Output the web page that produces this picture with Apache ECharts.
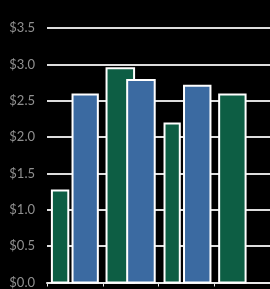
<!DOCTYPE html>
<html><head><meta charset="utf-8">
<script src="https://cdn.jsdelivr.net/npm/echarts@6/dist/echarts.min.js"></script>
<style>html,body{margin:0;padding:0;background:#000;}#c{width:270px;height:289px;}</style>
</head><body><div id="c"></div>
<script>
const categories = ['A', 'B', 'C', 'D'];
const greenValues = [1.28, 2.96, 2.2, 2.6];
const blueValues = [2.6, 2.8, 2.72, null];
const yTicks = [0, 0.5, 1, 1.5, 2, 2.5, 3, 3.5];

// layout (fractions of category band) - style only
const greenSpans = [[0.07, 0.40], [0.05, 0.58], [0.09, 0.40], [0.07, 0.58]];
const blueSpans = [[0.44, 0.93], [0.42, 0.95], [0.44, 0.95], [0.44, 0.95]];

function makeRender(spans, color) {
  return function (params, api) {
    const c = api.value(0), v = api.value(1);
    if (v == null || isNaN(v)) return;
    const band = api.size([1, 0])[0];
    const start = api.coord([c, 0])[0] - band / 2;
    const base = api.coord([c, 0])[1];
    const top = api.coord([c, v])[1];
    const s = spans[params.dataIndex];
    const x0 = start + s[0] * band, x1 = start + s[1] * band;
    return {
      type: 'rect',
      shape: { x: x0 + 1, y: top + 1, width: x1 - x0 - 2, height: base - top - 1 },
      style: { fill: color, stroke: '#ffffff', lineWidth: 2 }
    };
  };
}

const chart = echarts.init(document.getElementById('c'));
chart.setOption({
  backgroundColor: '#000000',
  animation: false,
  grid: { left: 47, right: -4, top: 28, bottom: 6, containLabel: false },
  xAxis: {
    type: 'category', data: categories,
    axisLine: { lineStyle: { color: '#e8e8e8', width: 2 } },
    axisTick: { show: true, length: 4, lineStyle: { color: '#e8e8e8' } },
    axisLabel: { show: false }
  },
  yAxis: {
    type: 'value', min: 0, max: 3.5, interval: 0.5,
    axisLine: { show: false }, axisTick: { show: false },
    axisLabel: {
      color: '#909090', fontFamily: 'Lato', fontSize: 13, margin: 12,
      formatter: v => '$' + v.toFixed(1)
    },
    splitLine: { lineStyle: { color: '#dddddd', width: 2 } }
  },
  series: [
    { type: 'custom', data: greenValues.map((v, i) => [i, v]), renderItem: makeRender(greenSpans, '#0d5e44'), clip: false },
    { type: 'custom', data: blueValues.map((v, i) => [i, v]), renderItem: makeRender(blueSpans, '#3b6aa1'), clip: false }
  ]
});
</script></body></html>
